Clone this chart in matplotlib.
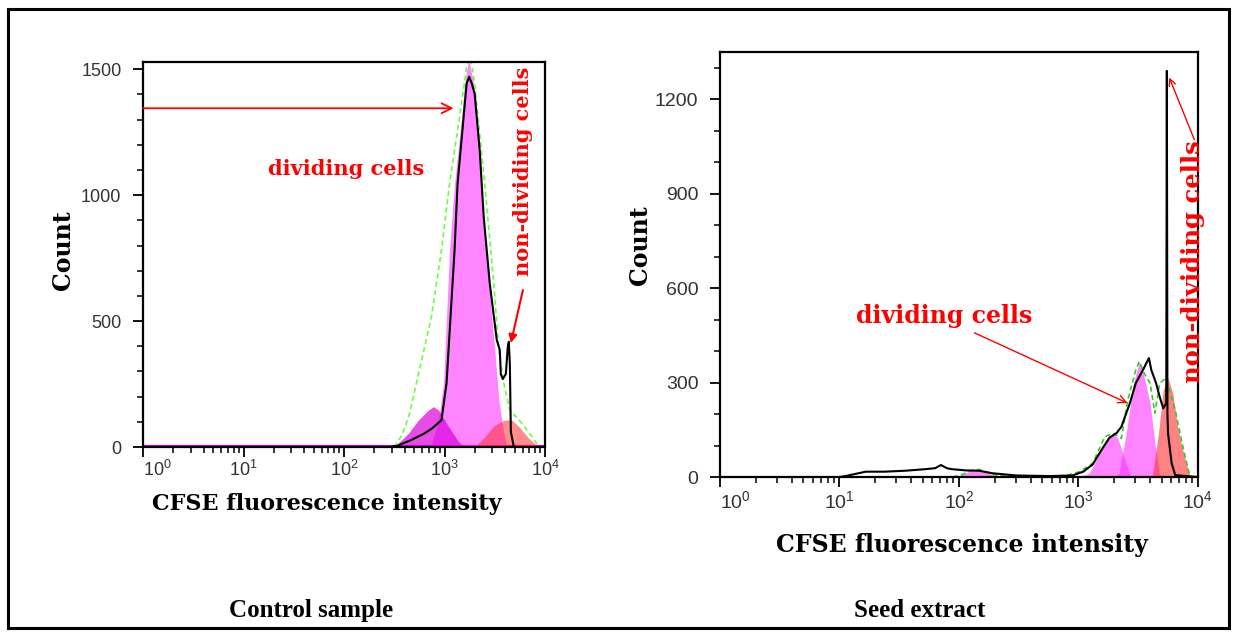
import numpy as np
import matplotlib
matplotlib.use('Agg')
import matplotlib.pyplot as plt
from matplotlib.patches import Rectangle
from matplotlib.ticker import LogLocator, MultipleLocator, FixedLocator, NullFormatter

plt.rcParams['font.family'] = ['Liberation Sans', 'DejaVu Sans']
plt.rcParams['mathtext.default'] = 'regular'

# x values are given as log10(CFSE intensity), y values are cell counts

# Control sample
ctrl_black_exp = [0.00, 2.45, 2.53, 2.67, 2.80, 2.88, 2.97, 3.02, 3.06, 3.10, 3.13, 3.19, 3.22, 3.245, 3.27,
                  3.30, 3.35, 3.39, 3.45, 3.52, 3.55, 3.56, 3.58, 3.61, 3.63, 3.64, 3.65, 3.66, 3.69, 4.00]
ctrl_black_cnt = [0, 0, 5, 28, 54, 75, 107, 253, 517, 782, 1046, 1310, 1443, 1470, 1445,
                  1403, 1179, 914, 650, 425, 385, 290, 270, 290, 400, 418, 330, 60, 0, 0]
ctrl_main_exp = [2.86, 2.94, 2.99, 3.02, 3.05, 3.10, 3.17, 3.20, 3.24, 3.29, 3.34, 3.39, 3.44, 3.50, 3.54, 3.59, 3.62]
ctrl_main_cnt = [0, 107, 253, 517, 782, 1046, 1310, 1443, 1540, 1443, 1179, 914, 650, 385, 187, 54, 0]
ctrl_small_exp = [2.50, 2.64, 2.74, 2.84, 2.89, 2.94, 3.04, 3.14, 3.20]
ctrl_small_cnt = [0, 54, 107, 147, 160, 147, 81, 21, 0]
ctrl_red_exp = [3.30, 3.40, 3.50, 3.60, 3.67, 3.74, 3.84, 3.94]
ctrl_red_cnt = [0, 41, 87, 107, 107, 81, 34, 0]
ctrl_green_exp = [2.50, 2.58, 2.65, 2.72, 2.87, 2.97, 3.05, 3.15, 3.22, 3.26, 3.30, 3.40, 3.49, 3.54, 3.59,
                  3.65, 3.77, 3.87, 3.94]
ctrl_green_cnt = [0, 50, 130, 253, 517, 782, 1046, 1310, 1509, 1545, 1443, 1046, 650, 385, 253,
                  147, 94, 41, 0]

# Seed extract
seed_black_exp = [1.00, 1.05, 1.22, 1.38, 1.55, 1.72, 1.80, 1.85, 1.90, 1.94, 2.06, 2.17, 2.28, 2.48, 2.76,
                  2.95, 3.04, 3.12, 3.20, 3.26, 3.32, 3.36, 3.43, 3.48, 3.54, 3.59, 3.61, 3.65, 3.68, 3.71,
                  3.735, 3.74, 3.745, 3.75, 3.78, 3.81, 4.00]
seed_black_cnt = [0, 3, 17, 17, 20, 25, 28, 38, 28, 25, 21, 20, 12, 5, 3,
                  5, 17, 40, 90, 125, 140, 160, 234, 298, 340, 378, 340, 298, 255, 218,
                  235, 1290, 200, 139, 44, 6, 0]
seed_hump_exp = [1.95, 2.03, 2.11, 2.17, 2.25, 2.34]
seed_hump_cnt = [0, 8, 22, 24, 12, 0]
seed_pka_exp = [3.00, 3.09, 3.18, 3.25, 3.29, 3.33, 3.39, 3.44]
seed_pka_cnt = [0, 12, 75, 128, 139, 123, 54, 0]
seed_pkb_exp = [3.30, 3.34, 3.40, 3.46, 3.51, 3.55, 3.60, 3.64, 3.68, 3.70]
seed_pkb_cnt = [0, 12, 139, 298, 367, 319, 234, 107, 6, 0]
seed_red_exp = [3.60, 3.62, 3.67, 3.71, 3.75, 3.79, 3.83, 3.88, 3.93, 3.95]
seed_red_cnt = [0, 6, 139, 277, 314, 266, 160, 75, 6, 0]
seed_green_exp = [1.95, 2.03, 2.11, 2.17, 2.25, 2.34, 2.50, 2.70, 2.90, 3.01, 3.12, 3.22, 3.29, 3.36, 3.41,
                  3.48, 3.51, 3.55, 3.60, 3.64, 3.68, 3.73, 3.81, 3.88, 3.93]
seed_green_cnt = [0, 8, 22, 24, 12, 4, 3, 3, 5, 17, 44, 128, 139, 123, 240,
                  340, 367, 330, 298, 203, 298, 314, 213, 86, 6]

decades = [0, 1, 2, 3, 4]
decade_labels = ['$10^{%d}$' % d for d in decades]

PINK = '#ff33ff'
MAGENTA = '#dd00dd'
SALMON = '#ff3030'
GREEN = '#66ff44'
SERIF = ['DejaVu Serif']


def lin(exp):
    return np.power(10.0, np.array(exp))


def setup_axes(ax, ytop, ymajor, tick_fs):
    ax.set_xscale('log')
    ax.set_xlim(1, 1e4)
    ax.set_ylim(0, ytop)
    ax.xaxis.set_major_locator(FixedLocator(lin(decades)))
    ax.set_xticklabels(decade_labels)
    ax.xaxis.set_minor_locator(LogLocator(base=10, subs=np.arange(2, 10)))
    ax.xaxis.set_minor_formatter(NullFormatter())
    ax.yaxis.set_major_locator(MultipleLocator(ymajor))
    ax.yaxis.set_minor_locator(MultipleLocator(100))
    for s in ax.spines.values():
        s.set_linewidth(1.6)
    ax.tick_params(which='major', direction='out', length=7.5, width=1.3, labelsize=tick_fs,
                   labelcolor='#333333')
    ax.tick_params(which='minor', direction='out', length=4.5, width=1.1)
    ax.tick_params(axis='y', pad=8)
    ax.tick_params(axis='x', pad=2)
    ax.get_xticklabels()[0].set_horizontalalignment('left')


fig = plt.figure(figsize=(12.37, 6.33), dpi=100)
fig.add_artist(Rectangle((0.0065, 0.0079), 0.987, 0.978, transform=fig.transFigure,
                         fill=False, lw=2.2, edgecolor='black'))

# ---- left panel: control sample ----
ax1 = fig.add_axes([0.1156, 0.2938, 0.325, 0.608])
setup_axes(ax1, 1528, 500, 13)
ax1.axhline(0, color=MAGENTA, lw=3, zorder=1)
ax1.fill_between(lin(ctrl_main_exp), ctrl_main_cnt, color=PINK, alpha=0.6, lw=0, zorder=1)
ax1.fill_between(lin(ctrl_small_exp), ctrl_small_cnt, color=MAGENTA, alpha=0.7, lw=0, zorder=1)
ax1.fill_between(lin(ctrl_red_exp), ctrl_red_cnt, color=SALMON, alpha=0.55, lw=0, zorder=1)
ax1.plot(lin(ctrl_green_exp), ctrl_green_cnt, color=GREEN, lw=1.2, dashes=(3, 2), zorder=2)
ax1.plot(lin(ctrl_black_exp), ctrl_black_cnt, color='black', lw=1.5, zorder=3)

ax1.set_xlabel('CFSE fluorescence intensity', family=SERIF, weight='bold', fontsize=16)
ax1.xaxis.set_label_coords(0.458, -0.12)
ax1.set_ylabel('Count', family=SERIF, weight='bold', fontsize=17)
ax1.yaxis.set_label_coords(-0.169, 0.512)

ax1.annotate('', xy=(10 ** 3.09, 1345), xytext=(1, 1345),
             arrowprops=dict(arrowstyle='->', color='red', lw=1.3, mutation_scale=18, shrinkA=0, shrinkB=0))
ax1.text(10 ** 2.02, 1103, 'dividing cells', color='red', family=SERIF, weight='bold', fontsize=15,
         ha='center', va='center')
ax1.text(10 ** 3.78, 1093, 'non-dividing cells', color='red', family=SERIF, weight='bold', fontsize=15,
         rotation=90, ha='center', va='center')
ax1.annotate('', xy=(10 ** 3.66, 413), xytext=(10 ** 3.78, 623),
             arrowprops=dict(arrowstyle='-|>', color='red', lw=1.5, mutation_scale=12, shrinkA=0, shrinkB=0))

# ---- right panel: seed extract ----
ax2 = fig.add_axes([0.582, 0.2464, 0.3864, 0.6714])
setup_axes(ax2, 1350, 300, 14)
ax2.fill_between(lin(seed_hump_exp), seed_hump_cnt, color=PINK, alpha=0.6, lw=0, zorder=1)
ax2.fill_between(lin(seed_pka_exp), seed_pka_cnt, color=PINK, alpha=0.6, lw=0, zorder=1)
ax2.fill_between(lin(seed_pkb_exp), seed_pkb_cnt, color=PINK, alpha=0.6, lw=0, zorder=1)
ax2.fill_between(lin(seed_red_exp), seed_red_cnt, color=SALMON, alpha=0.6, lw=0, zorder=1)
ax2.plot(lin(seed_green_exp), seed_green_cnt, color='#33cc22', lw=1.2, dashes=(3, 2), zorder=2)
ax2.plot(lin(seed_black_exp), seed_black_cnt, color='black', lw=1.5, zorder=3)

ax2.set_xlabel('CFSE fluorescence intensity', family=SERIF, weight='bold', fontsize=17)
ax2.xaxis.set_label_coords(0.506, -0.132)
ax2.set_ylabel('Count', family=SERIF, weight='bold', fontsize=17)
ax2.yaxis.set_label_coords(-0.142, 0.546)

ax2.text(10 ** 1.874, 512, 'dividing cells', color='red', family=SERIF, weight='bold', fontsize=17,
         ha='center', va='center')
ax2.annotate('', xy=(10 ** 3.41, 235), xytext=(10 ** 2.13, 458),
             arrowprops=dict(arrowstyle='->', color='red', lw=1.0, mutation_scale=14, shrinkA=0, shrinkB=0))
ax2.text(10 ** 3.958, 684, 'non-dividing cells', color='red', family=SERIF, weight='bold', fontsize=17.5,
         rotation=90, ha='center', va='center', clip_on=False)
ax2.annotate('', xy=(10 ** 3.76, 1269), xytext=(10 ** 3.97, 1072), annotation_clip=False,
             arrowprops=dict(arrowstyle='->', color='red', lw=1.0, mutation_scale=12, shrinkA=0, shrinkB=0))

# captions
fig.text(0.2514, 0.0348, 'Control sample', family=['Liberation Serif'], weight='bold', fontsize=18,
         ha='center', va='center')
fig.text(0.7437, 0.0348, 'Seed extract', family=['Liberation Serif'], weight='bold', fontsize=18,
         ha='center', va='center')

fig.savefig('out.png', dpi=100)
